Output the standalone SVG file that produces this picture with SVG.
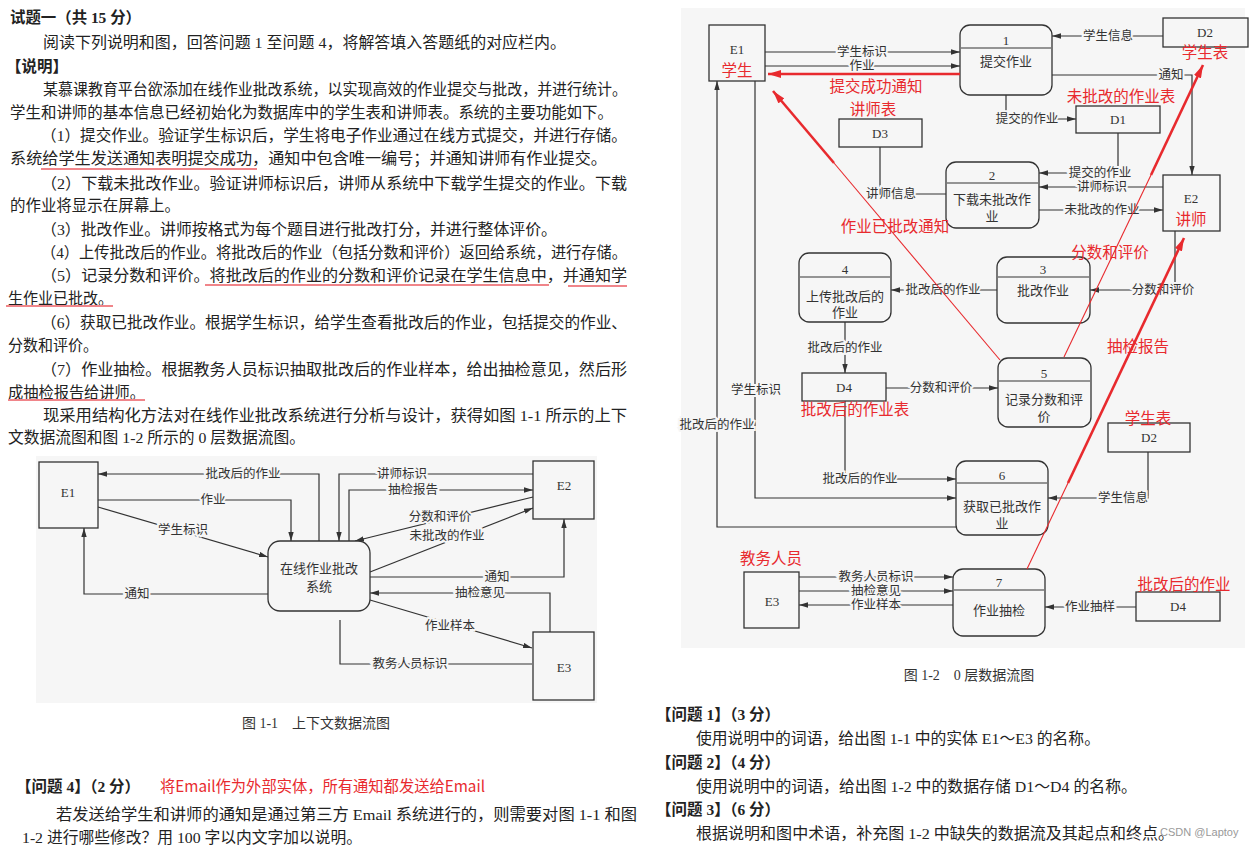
<svg xmlns="http://www.w3.org/2000/svg" width="1251" height="849" viewBox="0 0 1251 849">
<defs>
<style>
.t{font-family:"Liberation Serif","Noto Sans CJK SC",serif;font-size:15.5px;fill:#222}
.b{font-weight:bold}
.red{font-family:"Noto Sans CJK SC","Liberation Sans",sans-serif;font-size:15.5px;fill:#e82a2e}
.ul{stroke:#f0858a;stroke-width:2;fill:none}
.ln{stroke:#333;stroke-width:1.2;fill:none}
.bx{fill:#f6f6f6;stroke:#333;stroke-width:1.3}
.nt{font-family:"Liberation Serif","Noto Sans CJK SC",serif;font-size:13px;fill:#333;text-anchor:middle}
.lb{font-family:"Liberation Serif","Noto Sans CJK SC",serif;font-size:12.5px;fill:#333;text-anchor:middle;stroke:#f6f6f6;stroke-width:4;paint-order:stroke}
.rl{stroke:#e82a2e;fill:none}
.cap{font-family:"Liberation Serif","Noto Sans CJK SC",serif;font-size:14px;fill:#333;text-anchor:middle}
</style>
<marker id="a" viewBox="0 0 10 6" refX="10" refY="3" markerWidth="9" markerHeight="5.5" orient="auto" markerUnits="userSpaceOnUse"><path d="M0,0 L10,3 L0,6 z" fill="#333"/></marker>
<marker id="r" viewBox="0 0 10 6" refX="10" refY="3" markerWidth="13" markerHeight="8" orient="auto" markerUnits="userSpaceOnUse"><path d="M0,0 L10,3 L0,6 z" fill="#e82a2e"/></marker>
</defs>
<rect width="1251" height="849" fill="#fff"/>

<!-- Left text -->
<g id="text-left">
<text class="t b" x="10" y="23" textLength="131" lengthAdjust="spacingAndGlyphs">试题一（共 15 分）</text>
<text class="t" x="43" y="48" textLength="523" lengthAdjust="spacingAndGlyphs">阅读下列说明和图，回答问题 1 至问题 4，将解答填入答题纸的对应栏内。</text>
<text class="t b" x="6" y="72">【说明】</text>
<text class="t" x="43" y="95" textLength="584" lengthAdjust="spacingAndGlyphs">某慕课教育平台欲添加在线作业批改系统，以实现高效的作业提交与批改，并进行统计。</text>
<text class="t" x="10" y="118" textLength="603" lengthAdjust="spacingAndGlyphs">学生和讲师的基本信息已经初始化为数据库中的学生表和讲师表。系统的主要功能如下。</text>
<text class="t" x="41" y="141" textLength="586" lengthAdjust="spacingAndGlyphs">（1）提交作业。验证学生标识后，学生将电子作业通过在线方式提交，并进行存储。</text>
<text class="t" x="10" y="164" textLength="597" lengthAdjust="spacingAndGlyphs">系统给学生发送通知表明提交成功，通知中包含唯一编号；并通知讲师有作业提交。</text>
<text class="t" x="41" y="189" textLength="586" lengthAdjust="spacingAndGlyphs">（2）下载未批改作业。验证讲师标识后，讲师从系统中下载学生提交的作业。下载</text>
<text class="t" x="10" y="211" textLength="170" lengthAdjust="spacingAndGlyphs">的作业将显示在屏幕上。</text>
<text class="t" x="41" y="235" textLength="516" lengthAdjust="spacingAndGlyphs">（3）批改作业。讲师按格式为每个题目进行批改打分，并进行整体评价。</text>
<text class="t" x="41" y="258" textLength="586" lengthAdjust="spacingAndGlyphs">（4）上传批改后的作业。将批改后的作业（包括分数和评价）返回给系统，进行存储。</text>
<text class="t" x="41" y="281" textLength="586" lengthAdjust="spacingAndGlyphs">（5）记录分数和评价。将批改后的作业的分数和评价记录在学生信息中，并通知学</text>
<text class="t" x="8" y="304" textLength="105" lengthAdjust="spacingAndGlyphs">生作业已批改。</text>
<text class="t" x="41" y="328" textLength="586" lengthAdjust="spacingAndGlyphs">（6）获取已批改作业。根据学生标识，给学生查看批改后的作业，包括提交的作业、</text>
<text class="t" x="8" y="351" textLength="90" lengthAdjust="spacingAndGlyphs">分数和评价。</text>
<text class="t" x="41" y="375" textLength="586" lengthAdjust="spacingAndGlyphs">（7）作业抽检。根据教务人员标识抽取批改后的作业样本，给出抽检意见，然后形</text>
<text class="t" x="8" y="398" textLength="137" lengthAdjust="spacingAndGlyphs">成抽检报告给讲师。</text>
<text class="t" x="43" y="421" textLength="584" lengthAdjust="spacingAndGlyphs">现采用结构化方法对在线作业批改系统进行分析与设计，获得如图 1-1 所示的上下</text>
<text class="t" x="8" y="443" textLength="297" lengthAdjust="spacingAndGlyphs">文数据流图和图 1-2 所示的 0 层数据流图。</text>
<path class="ul" d="M41,169 H257 M205,285 H549 M568,286 H627 M6,306 H113 M8,400 H145"/>
</g>

<!-- Figure 1-1 -->
<rect x="36" y="456" width="561" height="247" fill="#f6f6f6"/>
<g id="fig1-connectors">
<path class="ln" d="M319,541 V474 H98" marker-end="url(#a)"/>
<path class="ln" d="M98,500 H291 V541" marker-end="url(#a)"/>
<path class="ln" d="M98,507 L268,557" marker-end="url(#a)"/>
<path class="ln" d="M268,594 H84 V528" marker-end="url(#a)"/>
<path class="ln" d="M533,474 H339 V541" marker-end="url(#a)"/>
<path class="ln" d="M349,541 V490 H533" marker-end="url(#a)"/>
<path class="ln" d="M533,497 L355,541" marker-end="url(#a)"/>
<path class="ln" d="M370,572 L533,508" marker-end="url(#a)"/>
<path class="ln" d="M370,577 H564 V519" marker-end="url(#a)"/>
<path class="ln" d="M550,632 V593 H370" marker-end="url(#a)"/>
<path class="ln" d="M370,600 L532,648" marker-end="url(#a)"/>
<path class="ln" d="M532,664 H340 V620"/>
<text class="lb" x="243" y="478">批改后的作业</text>
<text class="lb" x="213" y="504">作业</text>
<text class="lb" x="183" y="534">学生标识</text>
<text class="lb" x="137" y="598">通知</text>
<text class="lb" x="402" y="478">讲师标识</text>
<text class="lb" x="413" y="494">抽检报告</text>
<text class="lb" x="440" y="521">分数和评价</text>
<text class="lb" x="447" y="540">未批改的作业</text>
<text class="lb" x="497" y="581">通知</text>
<text class="lb" x="480" y="597">抽检意见</text>
<text class="lb" x="450" y="630">作业样本</text>
<text class="lb" x="410" y="668">教务人员标识</text>
</g>
<g id="f1-E1"><rect class="bx" x="39" y="462" width="59" height="66"/><text class="nt" x="68" y="497" font-size="14">E1</text></g>
<g id="f1-E2"><rect class="bx" x="533" y="461" width="61" height="58"/><text class="nt" x="564" y="490" font-size="14">E2</text></g>
<g id="f1-E3"><rect class="bx" x="533" y="632" width="61" height="68"/><text class="nt" x="564" y="672" font-size="14">E3</text></g>
<g id="f1-P0"><rect class="bx" x="268" y="541" width="102" height="70" rx="12"/><text class="nt" x="319" y="573" font-size="14">在线作业批改</text><text class="nt" x="319" y="591" font-size="14">系统</text></g>
<text class="cap" x="316" y="728">图 1-1　上下文数据流图</text>

<!-- Figure 1-2 -->
<rect x="681" y="8" width="564" height="640" fill="#f6f6f6"/>
<g id="fig2-connectors">
<path class="ln" d="M1163,36 H1052" marker-end="url(#a)"/>
<path class="ln" d="M765,52 H960" marker-end="url(#a)"/>
<path class="ln" d="M765,66 H960" marker-end="url(#a)"/>
<path class="ln" d="M1052,75 H1192 V175" marker-end="url(#a)"/>
<path class="ln" d="M1006,95 V119 H1076" marker-end="url(#a)"/>
<path class="ln" d="M880,147 V194 H946"/>
<path class="ln" d="M1118,133 V173 H1039" marker-end="url(#a)"/>
<path class="ln" d="M1163,187 H1039" marker-end="url(#a)"/>
<path class="ln" d="M1039,210 H1163" marker-end="url(#a)"/>
<path class="ln" d="M1175,231 V290 H1090" marker-end="url(#a)"/>
<path class="ln" d="M997,290 H891" marker-end="url(#a)"/>
<path class="ln" d="M845,322 V373" marker-end="url(#a)"/>
<path class="ln" d="M886,388 H998" marker-end="url(#a)"/>
<path class="ln" d="M845,401 V479 H956" marker-end="url(#a)"/>
<path class="ln" d="M1148,452 V498 H1048" marker-end="url(#a)"/>
<path class="ln" d="M755,81 V498 H956" marker-end="url(#a)"/>
<path class="ln" d="M957,527 H717 V81" marker-end="url(#a)"/>
<path class="ln" d="M799,577 H953" marker-end="url(#a)"/>
<path class="ln" d="M799,591 H953" marker-end="url(#a)"/>
<path class="ln" d="M953,605 H799" marker-end="url(#a)"/>
<path class="ln" d="M1136,607 H1045" marker-end="url(#a)"/>
<text class="lb" x="1108" y="40">学生信息</text>
<text class="lb" x="862" y="56">学生标识</text>
<text class="lb" x="862" y="70">作业</text>
<text class="lb" x="1171" y="79">通知</text>
<text class="lb" x="1027" y="123">提交的作业</text>
<text class="lb" x="891" y="198">讲师信息</text>
<text class="lb" x="1100" y="177">提交的作业</text>
<text class="lb" x="1102" y="191">讲师标识</text>
<text class="lb" x="1102" y="214">未批改的作业</text>
<text class="lb" x="1163" y="294">分数和评价</text>
<text class="lb" x="943" y="294">批改后的作业</text>
<text class="lb" x="845" y="352">批改后的作业</text>
<text class="lb" x="941" y="392">分数和评价</text>
<text class="lb" x="860" y="483">批改后的作业</text>
<text class="lb" x="1123" y="502">学生信息</text>
<text class="lb" x="756" y="394">学生标识</text>
<text class="lb" x="717" y="429">批改后的作业</text>
<text class="lb" x="876" y="581">教务人员标识</text>
<text class="lb" x="876" y="595">抽检意见</text>
<text class="lb" x="876" y="609">作业样本</text>
<text class="lb" x="1090" y="611">作业抽样</text>
</g>
<g id="f2-E1"><rect class="bx" x="709" y="25" width="56" height="56"/><text class="nt" x="737" y="54">E1</text><text class="red" x="737" y="76" text-anchor="middle">学生</text></g>
<g id="f2-P1"><rect class="bx" x="960" y="25" width="92" height="70" rx="10"/><path class="ln" d="M961,48 H1051"/><text class="nt" x="1006" y="45">1</text><text class="nt" x="1006" y="66">提交作业</text></g>
<g id="f2-D2a"><rect class="bx" x="1163" y="18" width="85" height="29"/><text class="nt" x="1205" y="37">D2</text></g>
<g id="f2-D1"><rect class="bx" x="1076" y="106" width="84" height="27"/><text class="nt" x="1118" y="124">D1</text></g>
<g id="f2-D3"><rect class="bx" x="839" y="119" width="83" height="28"/><text class="nt" x="880" y="138">D3</text></g>
<g id="f2-P2"><rect class="bx" x="946" y="162" width="93" height="66" rx="10"/><path class="ln" d="M947,183 H1038"/><text class="nt" x="992" y="180">2</text><text class="nt" x="992" y="204">下载未批改作</text><text class="nt" x="992" y="221">业</text></g>
<g id="f2-E2"><rect class="bx" x="1163" y="175" width="57" height="56"/><text class="nt" x="1191" y="203">E2</text><text class="red" x="1191" y="225" text-anchor="middle">讲师</text></g>
<g id="f2-P3"><rect class="bx" x="997" y="257" width="93" height="66" rx="10"/><path class="ln" d="M998,277 H1089"/><text class="nt" x="1043" y="274">3</text><text class="nt" x="1043" y="295">批改作业</text></g>
<g id="f2-P4"><rect class="bx" x="799" y="253" width="92" height="69" rx="10"/><path class="ln" d="M800,277 H890"/><text class="nt" x="845" y="274">4</text><text class="nt" x="845" y="301">上传批改后的</text><text class="nt" x="845" y="317">作业</text></g>
<g id="f2-D4a"><rect class="bx" x="802" y="373" width="84" height="28"/><text class="nt" x="844" y="392">D4</text></g>
<g id="f2-P5"><rect class="bx" x="998" y="358" width="93" height="69" rx="10"/><path class="ln" d="M999,381 H1090"/><text class="nt" x="1044" y="378">5</text><text class="nt" x="1044" y="404">记录分数和评</text><text class="nt" x="1044" y="421">价</text></g>
<g id="f2-D2b"><rect class="bx" x="1108" y="423" width="82" height="29"/><text class="nt" x="1149" y="442">D2</text></g>
<g id="f2-P6"><rect class="bx" x="956" y="461" width="92" height="74" rx="10"/><path class="ln" d="M957,483 H1047"/><text class="nt" x="1002" y="480">6</text><text class="nt" x="1002" y="511">获取已批改作</text><text class="nt" x="1002" y="528">业</text></g>
<g id="f2-E3"><rect class="bx" x="744" y="572" width="55" height="56"/><text class="nt" x="772" y="606">E3</text></g>
<g id="f2-P7"><rect class="bx" x="953" y="569" width="92" height="67" rx="10"/><path class="ln" d="M954,590 H1044"/><text class="nt" x="999" y="587">7</text><text class="nt" x="999" y="615">作业抽检</text></g>
<g id="f2-D4b"><rect class="bx" x="1136" y="592" width="84" height="29"/><text class="nt" x="1178" y="611">D4</text></g>

<g id="red-annotations">
<path class="rl" stroke-width="2.6" d="M960,74 H768" marker-end="url(#r)"/>
<path class="rl" stroke-width="1.1" d="M1000,360 L834,163"/>
<path class="rl" stroke-width="2.6" d="M834,163 L773,91" marker-end="url(#r)"/>
<path class="rl" stroke-width="1.1" d="M1064,357 L1151,175"/>
<path class="rl" stroke-width="2.6" d="M1151,175 L1203,65" marker-end="url(#r)"/>
<path class="rl" stroke-width="1.1" d="M1027,569 L1068,483"/>
<path class="rl" stroke-width="2.6" d="M1068,483 L1184,238" marker-end="url(#r)"/>
<text class="red" x="876" y="92" text-anchor="middle">提交成功通知</text>
<text class="red" x="1205" y="58" text-anchor="middle">学生表</text>
<text class="red" x="1121" y="102" text-anchor="middle">未批改的作业表</text>
<text class="red" x="873" y="115" text-anchor="middle">讲师表</text>
<text class="red" x="895" y="232" text-anchor="middle">作业已批改通知</text>
<text class="red" x="1110" y="258" text-anchor="middle">分数和评价</text>
<text class="red" x="1138" y="352" text-anchor="middle">抽检报告</text>
<text class="red" x="855" y="415" text-anchor="middle">批改后的作业表</text>
<text class="red" x="1148" y="424" text-anchor="middle">学生表</text>
<text class="red" x="771" y="564" text-anchor="middle">教务人员</text>
<text class="red" x="1184" y="590" text-anchor="middle">批改后的作业</text>
</g>
<text class="cap" x="969" y="680">图 1-2　0 层数据流图</text>

<!-- Bottom texts -->
<g id="text-bottom">
<text class="t b" x="16" y="792">【问题 4】（2 分）</text>
<text class="red" x="160" y="792" textLength="325" lengthAdjust="spacingAndGlyphs">将Email作为外部实体，所有通知都发送给Email</text>
<text class="t" x="56" y="820" textLength="581" lengthAdjust="spacingAndGlyphs">若发送给学生和讲师的通知是通过第三方 Email 系统进行的，则需要对图 1-1 和图</text>
<text class="t" x="22" y="843" textLength="340" lengthAdjust="spacingAndGlyphs">1-2 进行哪些修改？用 100 字以内文字加以说明。</text>
<text class="t b" x="656" y="720">【问题 1】（3 分）</text>
<text class="t" x="696" y="744" textLength="404" lengthAdjust="spacingAndGlyphs">使用说明中的词语，给出图 1-1 中的实体 E1～E3 的名称。</text>
<text class="t b" x="656" y="768">【问题 2】（4 分）</text>
<text class="t" x="696" y="792" textLength="441" lengthAdjust="spacingAndGlyphs">使用说明中的词语，给出图 1-2 中的数据存储 D1～D4 的名称。</text>
<text class="t b" x="656" y="815">【问题 3】（6 分）</text>
<text class="t" x="696" y="839" textLength="478" lengthAdjust="spacingAndGlyphs">根据说明和图中术语，补充图 1-2 中缺失的数据流及其起点和终点。</text>
<text x="1160" y="836" font-family="Liberation Sans, sans-serif" font-size="11" fill="#999">CSDN @Laptoy</text>
</g>
</svg>
